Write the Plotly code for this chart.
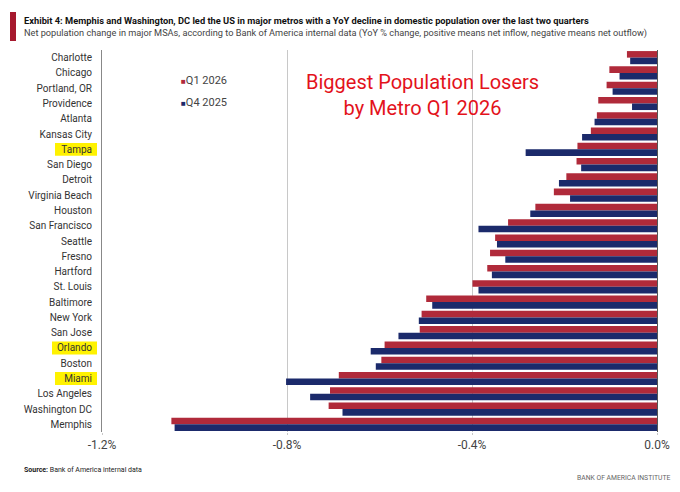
import plotly.graph_objects as go

# Data (YoY % change), top to bottom
metros = ["Charlotte", "Chicago", "Portland, OR", "Providence", "Atlanta", "Kansas City",
          "Tampa", "San Diego", "Detroit", "Virginia Beach", "Houston", "San Francisco",
          "Seattle", "Fresno", "Hartford", "St. Louis", "Baltimore", "New York", "San Jose",
          "Orlando", "Boston", "Miami", "Los Angeles", "Washington DC", "Memphis"]
q1_2026 = [-0.065, -0.103, -0.109, -0.127, -0.130, -0.143, -0.172, -0.174, -0.196, -0.223,
           -0.263, -0.322, -0.350, -0.361, -0.367, -0.399, -0.499, -0.509, -0.513, -0.589,
           -0.596, -0.688, -0.707, -0.710, -1.050]
q4_2025 = [-0.058, -0.081, -0.096, -0.054, -0.135, -0.162, -0.284, -0.164, -0.212, -0.188,
           -0.274, -0.386, -0.346, -0.328, -0.357, -0.386, -0.486, -0.515, -0.559, -0.619,
           -0.608, -0.802, -0.750, -0.680, -1.043]
highlighted = ["Tampa", "Orlando", "Miami"]
tick_vals = [-1.2, -0.8, -0.4, 0.0]
tick_text = ["-1.2%", "-0.8%", "-0.4%", "0.0%"]

RED = "#B02A3A"
NAVY = "#1B2A6B"
FONT = "Roboto, Arial, sans-serif"

# the page adds an 8px body margin, so the figure is 16px smaller than the window
W, H = 664, 476
L, R, T, B = 94, 15, 42, 52
PW, PH = W - L - R, H - T - B


def px(x_page):
    return (x_page - 8 - L) / PW


def py(y_page):
    return 1 - (y_page - 8 - T) / PH


fig = go.Figure()
fig.add_trace(go.Bar(y=metros, x=q1_2026, orientation="h", name="Q1 2026",
                     marker=dict(color=RED, line=dict(width=0))))
fig.add_trace(go.Bar(y=metros, x=q4_2025, orientation="h", name="Q4 2025",
                     marker=dict(color=NAVY, line=dict(width=0))))

# yellow highlight behind selected metro labels
hl_left = {"Tampa": 55, "Orlando": 52, "Miami": 55}
for m in highlighted:
    i = metros.index(m)
    fig.add_shape(type="rect", xref="paper", yref="y", x0=px(hl_left[m]), x1=px(97),
                  y0=i - 0.42, y1=i + 0.42, fillcolor="#FFF200", line=dict(width=0),
                  layer="below")

fig.update_layout(
    width=W, height=H, autosize=False,
    margin=dict(l=L, r=R, t=T, b=B, autoexpand=False),
    paper_bgcolor="white", plot_bgcolor="white",
    barmode="group", bargap=0.14, bargroupgap=0.0,
    showlegend=False,
    font=dict(family=FONT, color="#333333", size=10),
    xaxis=dict(range=[-1.2, 0.0], tickvals=tick_vals, ticktext=tick_text,
               automargin=False, ticklabeloverflow="allow",
               showgrid=True, gridcolor="#C8C8C8", gridwidth=1,
               zeroline=True, zerolinecolor="#555555", zerolinewidth=1,
               ticks="outside", ticklen=2, tickcolor="#C8C8C8",
               tickfont=dict(size=12, color="#444444"), showline=False),
    yaxis=dict(autorange="reversed", showgrid=False, ticks="", ticklabelstandoff=7,
               automargin=False,
               showline=True, linecolor="#888888", linewidth=1,
               tickfont=dict(size=10, color="#333333")),
)

# title block
fig.add_shape(type="rect", xref="paper", yref="paper",
              x0=px(10), x1=px(16), y0=py(41), y1=py(12), fillcolor="#A6192E", line=dict(width=0))
fig.add_annotation(xref="paper", yref="paper", x=px(22), y=py(20), xanchor="left", yanchor="middle",
                   showarrow=False, align="left",
                   text="<b>Exhibit 4: Memphis and Washington, DC led the US in major metros with a YoY decline in domestic population over the last two quarters</b>",
                   font=dict(size=9.3, color="#111111"))
fig.add_annotation(xref="paper", yref="paper", x=px(22), y=py(33), xanchor="left", yanchor="middle",
                   showarrow=False, align="left",
                   text="Net population change in major MSAs, according to Bank of America internal data (YoY % change, positive means net inflow, negative means net outflow)",
                   font=dict(size=9.2, color="#444444"))

# legend drawn as text
fig.add_annotation(xref="paper", yref="paper", x=px(179), y=py(80), xanchor="left", yanchor="middle",
                   showarrow=False,
                   text=f"<span style='color:{RED};font-size:8px'>■</span>Q1 2026",
                   font=dict(size=11, color="#444444"))
fig.add_annotation(xref="paper", yref="paper", x=px(179), y=py(102), xanchor="left", yanchor="middle",
                   showarrow=False,
                   text=f"<span style='color:{NAVY};font-size:8px'>■</span>Q4 2025",
                   font=dict(size=11, color="#444444"))

# callout
fig.add_annotation(xref="paper", yref="paper", x=px(422), y=py(95), xanchor="center", yanchor="middle",
                   showarrow=False, text="Biggest Population Losers<br>by Metro Q1 2026",
                   font=dict(size=20, color="#E3121B"))

# footer
fig.add_annotation(xref="paper", yref="paper", x=px(22), y=py(470), xanchor="left", yanchor="middle",
                   showarrow=False, text="<b>Source:</b> Bank of America internal data",
                   font=dict(size=7, color="#222222"))
fig.add_annotation(xref="paper", yref="paper", x=px(672), y=py(478), xanchor="right", yanchor="middle",
                   showarrow=False, text="BANK OF AMERICA INSTITUTE",
                   font=dict(size=6.8, color="#666666"))

fig.write_html("out.html")
